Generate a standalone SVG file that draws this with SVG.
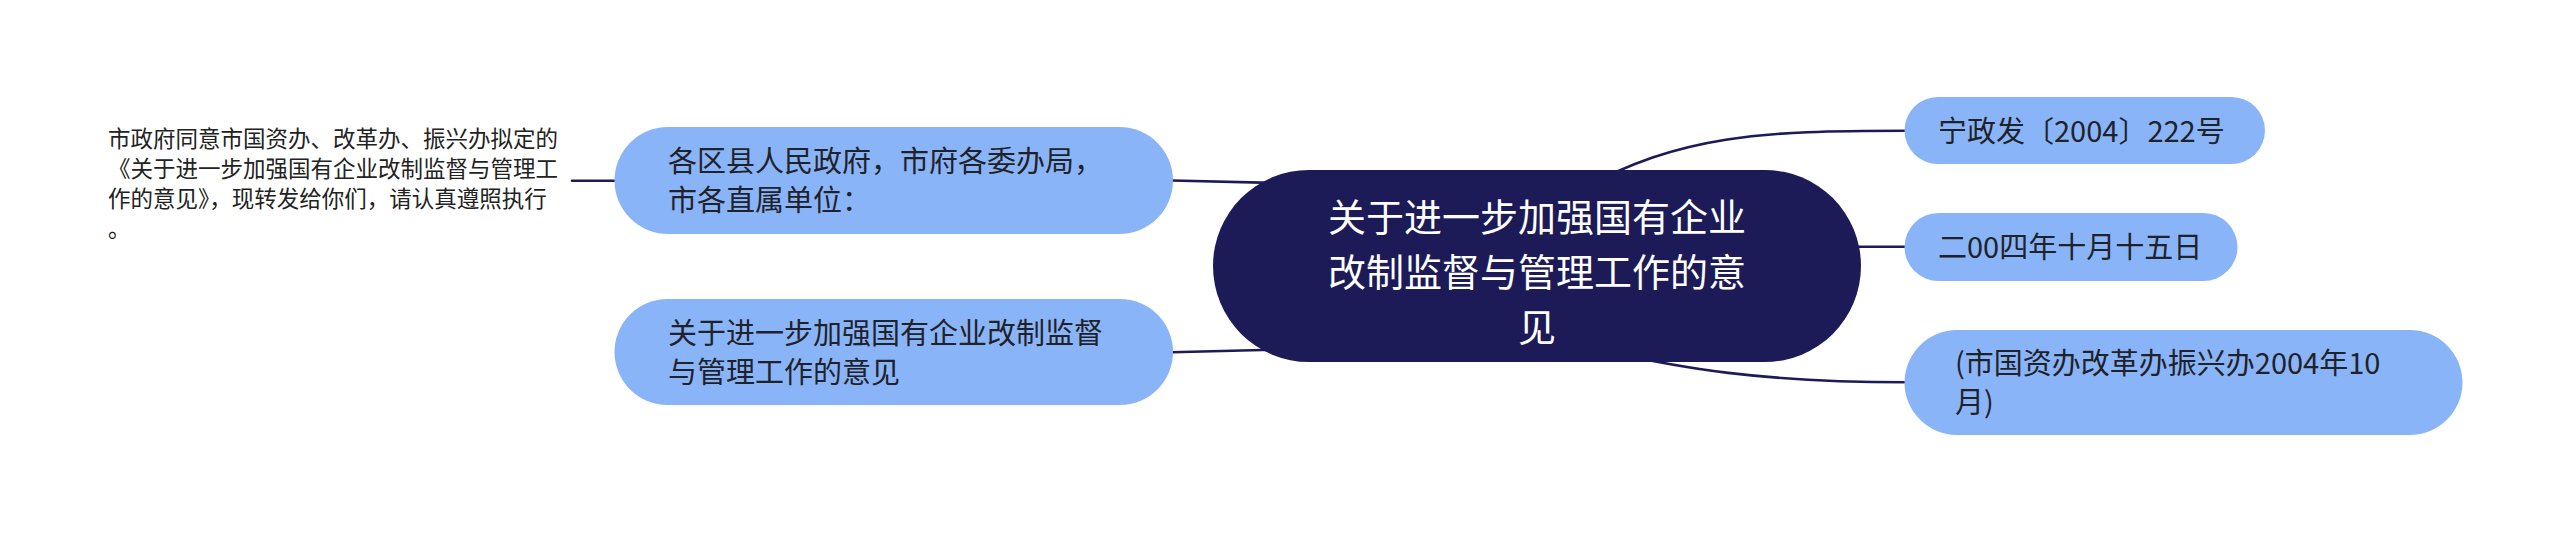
<svg xmlns="http://www.w3.org/2000/svg" width="2560" height="533" viewBox="0 0 2560 533">
<style>
.bg{fill:#ffffff}
.sub{fill:#8ab4f8}
.root{fill:#1c1b58}
.t{font-family:"Noto Sans CJK SC","Noto Sans",sans-serif;font-size:29px;fill:#1f2228}
.rt{font-family:"Noto Sans CJK SC","Noto Sans",sans-serif;font-size:38px;fill:#ffffff;text-anchor:middle}
.note{font-family:"Noto Sans CJK SC","Noto Sans",sans-serif;font-size:22.5px;fill:#222222}
.c{fill:none;stroke:#1c1b58;stroke-width:2.6;stroke-linecap:round}
</style>
<rect class="bg" x="0" y="0" width="2560" height="533"/>
<g id="connectors">
<path class="c" d="M 572 180.7 L 616 180.7"/>
<path class="c" d="M 1172 180.5 L 1300 183.5"/>
<path class="c" d="M 1172 352.3 L 1300 349"/>
<path class="c" d="M 1580 190 C 1680 135, 1760 130.7, 1906 130.7"/>
<path class="c" d="M 1820 246.7 L 1906 246.7"/>
<path class="c" d="M 1600 350 C 1680 368, 1760 382.3, 1906 382.3"/>
</g>
<g id="note">
<text class="note"><tspan x="108" y="146.8">市政府同意市国资办、改革办、振兴办拟定的</tspan><tspan x="108" y="176.8">《关于进一步加强国有企业改制监督与管理工</tspan><tspan x="108" y="206.8">作的意见》，现转发给你们，请认真遵照执行</tspan><tspan x="108" y="236.8">。</tspan></text>
</g>
<g id="node-l1">
<rect class="sub" x="614.5" y="127" width="558.5" height="107" rx="53.5"/>
<text class="t"><tspan x="668" y="172.2">各区县人民政府，市府各委办局，</tspan><tspan x="668" y="210.8">市各直属单位：</tspan></text>
</g>
<g id="node-l2">
<rect class="sub" x="614.5" y="299" width="558.5" height="106" rx="53"/>
<text class="t"><tspan x="668" y="344">关于进一步加强国有企业改制监督</tspan><tspan x="668" y="382.6">与管理工作的意见</tspan></text>
</g>
<g id="node-root">
<rect class="root" x="1213" y="170" width="648" height="192" rx="96"/>
<text class="rt"><tspan x="1537" y="230.9">关于进一步加强国有企业</tspan><tspan x="1537" y="286.1">改制监督与管理工作的意</tspan><tspan x="1537" y="341.3">见</tspan></text>
</g>
<g id="node-r1">
<rect class="sub" x="1904.5" y="97" width="360.5" height="67" rx="33.5"/>
<text class="t" x="1938" y="141.7">宁政发〔2004〕222号</text>
</g>
<g id="node-r2">
<rect class="sub" x="1904.5" y="213" width="333" height="68" rx="34"/>
<text class="t" x="1938" y="258">二00四年十月十五日</text>
</g>
<g id="node-r3">
<rect class="sub" x="1904.5" y="330" width="558" height="105" rx="52.5"/>
<text class="t"><tspan x="1955" y="374.2">(市国资办改革办振兴办2004年10</tspan><tspan x="1955" y="412.8">月)</tspan></text>
</g>
</svg>
